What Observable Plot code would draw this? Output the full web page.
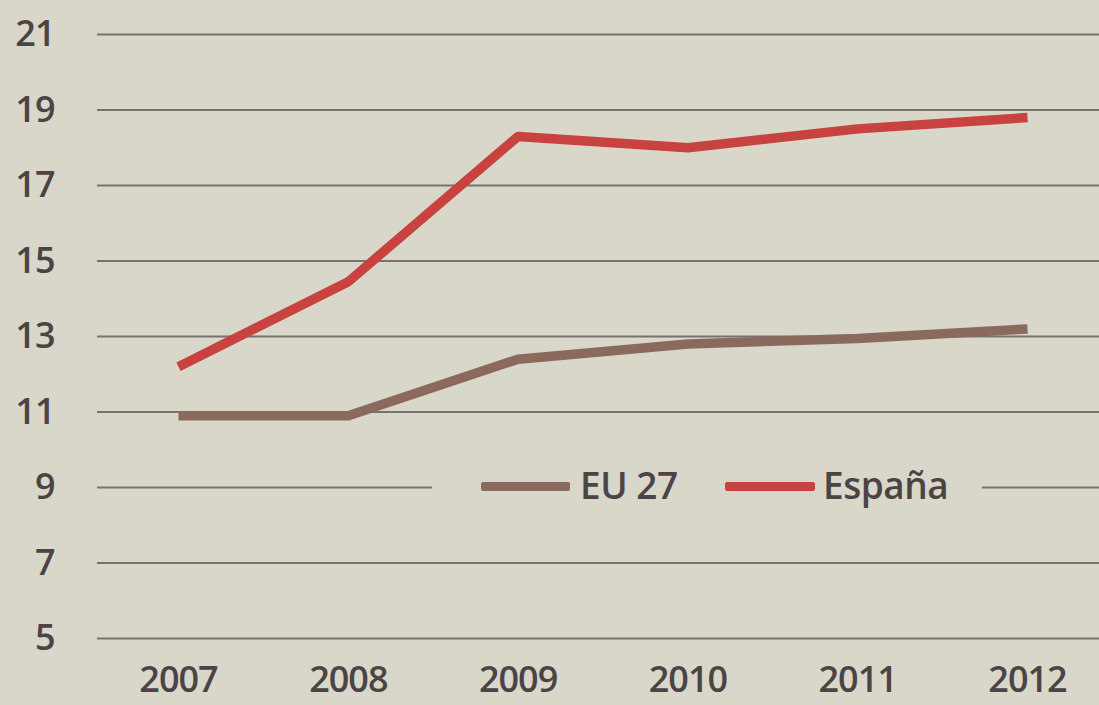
<!DOCTYPE html>
<html><head><meta charset="utf-8">
<script src="https://cdn.jsdelivr.net/npm/d3@7"></script>
<script src="https://cdn.jsdelivr.net/npm/@observablehq/plot@0.6"></script>
<style>
html,body{margin:0;padding:0;background:#d9d7c9;}
#wrap{position:relative;width:1099px;height:705px;overflow:hidden;background:#d9d7c9;}
#wrap svg{display:block;}
#legend{position:absolute;left:432px;top:466px;width:550px;height:42px;background:#d9d7c9;
  font-family:"Open Sans",sans-serif;font-weight:600;font-size:37px;color:#4a4446;}
.sw{position:absolute;top:16px;height:9px;border-radius:2px;}
.lt{position:absolute;top:-6px;line-height:50px;white-space:nowrap;letter-spacing:-0.5px;}
</style></head><body><div id="wrap"></div>
<script>
const years = [2007, 2008, 2009, 2010, 2011, 2012];
const espana = [12.2, 14.45, 18.3, 18.0, 18.5, 18.8];
const eu27 = [10.9, 10.9, 12.4, 12.8, 12.95, 13.2];
const yTicks = [5, 7, 9, 11, 13, 15, 17, 19, 21];
const seriesNames = ["EU 27", "España"];
const seriesColors = ["#8b6a5e", "#c8423f"];
const seriesValues = [eu27, espana];

const data = seriesNames.flatMap((name, s) =>
  years.map((year, i) => ({year, value: seriesValues[s][i], series: name})));

const chart = Plot.plot({
  width: 1099, height: 705,
  marginLeft: 97, marginRight: 0, marginTop: 34, marginBottom: 67,
  style: {background: "transparent", fontFamily: "Open Sans", fontSize: "36px", fontWeight: 600, color: "#4a4446", letterSpacing: "-1px"},
  x: {domain: [2007, 2012], range: [178, 1027], ticks: years, tickFormat: d => String(d), tickSize: 0, tickPadding: 28, label: null},
  y: {domain: [5, 21], ticks: yTicks, tickSize: 0, tickPadding: 43, label: null},
  color: {domain: seriesNames, range: seriesColors},
  marks: [
    Plot.ruleY(yTicks, {stroke: "#787172", strokeWidth: 2}),
    Plot.line(data, {x: "year", y: "value", z: "series", stroke: "series", strokeWidth: 9.5, strokeLinecap: "butt", strokeLinejoin: "round"})
  ]
});
const wrap = document.getElementById("wrap");
wrap.appendChild(chart);

const legend = document.createElement("div");
legend.id = "legend";
const pos = [{sw: 49, swW: 89, tx: 148}, {sw: 293, swW: 90, tx: 391}];
seriesNames.forEach((name, i) => {
  const sw = document.createElement("div");
  sw.className = "sw";
  sw.style.left = pos[i].sw + "px";
  sw.style.width = pos[i].swW + "px";
  sw.style.background = seriesColors[i];
  legend.appendChild(sw);
  const t = document.createElement("div");
  t.className = "lt";
  t.style.left = pos[i].tx + "px";
  t.textContent = name;
  legend.appendChild(t);
});
wrap.appendChild(legend);
</script>
</body></html>
